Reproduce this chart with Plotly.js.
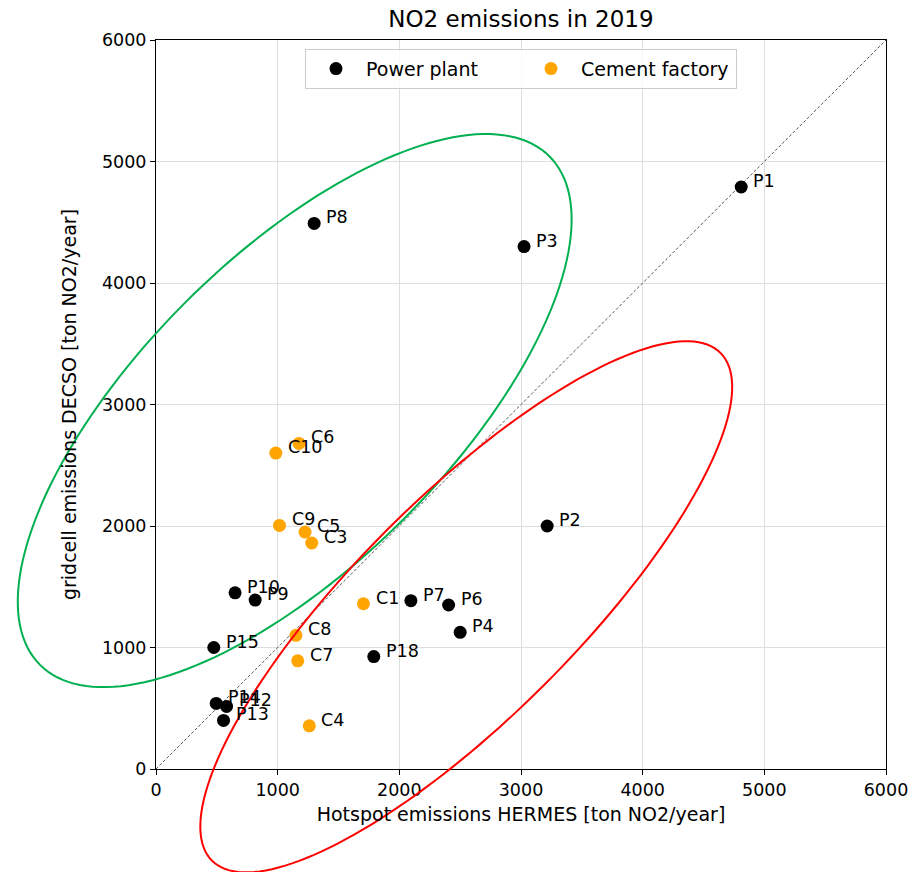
<!DOCTYPE html>
<html>
<head>
<meta charset="utf-8">
<script src="https://cdn.plot.ly/plotly-3.0.1.min.js"></script>
<style>html,body{margin:0;padding:0;background:#fff;}#chart{width:911px;height:872px;}</style>
</head>
<body>
<div id="chart"></div>
<script>
// ---- data ----
const plantNames = ['P1','P2','P3','P4','P6','P7','P8','P9','P10','P12','P13','P14','P15','P18'];
const plantX = [4810, 3215, 3025, 2500, 2405, 2095, 1300, 815, 650, 580, 555, 495, 475, 1790];
const plantY = [4790, 2000, 4300, 1125, 1350, 1385, 4490, 1390, 1450, 515, 400, 540, 1000, 925];
const cementNames = ['C1','C3','C4','C5','C6','C7','C8','C9','C10'];
const cementX = [1705, 1280, 1260, 1225, 1175, 1165, 1150, 1015, 985];
const cementY = [1360, 1860, 355, 1950, 2680, 890, 1100, 2005, 2600];
const diagX = [0, 6000];
const diagY = [0, 6000];
const tickVals = [0, 1000, 2000, 3000, 4000, 5000, 6000];
// ellipses: [centerX, centerY, width, height, angleDeg]
const greenEllipse = [1140, 2950, 5920, 2530, 45];
const redEllipse = [2550, 1335, 5910, 1815, 45];
const AXMAX = 6000;

const FONT = 'DejaVu Sans, sans-serif';
const LBL = 17.5;

function ellipsePath(e) {
  const [cx, cy, w, h, ang] = e;
  const a = w / 2, b = h / 2, t = ang * Math.PI / 180;
  let d = '';
  const N = 180;
  for (let i = 0; i <= N; i++) {
    const p = 2 * Math.PI * i / N;
    const x = cx + a * Math.cos(p) * Math.cos(t) - b * Math.sin(p) * Math.sin(t);
    const y = cy + a * Math.cos(p) * Math.sin(t) + b * Math.sin(p) * Math.cos(t);
    d += (i === 0 ? 'M' : 'L') + (x / AXMAX).toFixed(5) + ',' + (y / AXMAX).toFixed(5);
  }
  return d + 'Z';
}

const traces = [
  {x: diagX, y: diagY, mode: 'lines', showlegend: false, hoverinfo: 'skip',
   line: {color: '#555', width: 1, dash: '3px,2px'}},
  {x: plantX, y: plantY, mode: 'markers', name: 'Power plant',
   marker: {color: 'black', size: 13}},
  {x: cementX, y: cementY, mode: 'markers', name: 'Cement factory',
   marker: {color: 'orange', size: 13}}
];

const annotations = [];
function addLabels(names, xs, ys) {
  names.forEach((n, i) => {
    annotations.push({x: xs[i] + 100, y: ys[i], xref: 'x', yref: 'y', text: n,
      showarrow: false, xanchor: 'left', yanchor: 'middle', xshift: -2, yshift: 6,
      font: {family: FONT, size: LBL, color: 'black'}});
  });
}
addLabels(plantNames, plantX, plantY);
addLabels(cementNames, cementX, cementY);

const axisCommon = {
  range: [0, AXMAX], tickvals: tickVals, ticks: 'outside', ticklen: 5, tickwidth: 1,
  tickcolor: 'black', showline: true, linecolor: 'black', linewidth: 1, mirror: true,
  showgrid: true, gridcolor: '#dedede', gridwidth: 1, zeroline: false,
  tickfont: {family: FONT, size: 17.5, color: 'black'}, automargin: false
};

const layout = {
  width: 911, height: 872,
  margin: {l: 156, r: 25, t: 40, b: 103},
  paper_bgcolor: 'white', plot_bgcolor: 'white',
  title: {text: 'NO2 emissions in 2019', font: {family: FONT, size: 23, color: 'black'},
          x: 0.5718, xanchor: 'center', y: 0.978, yanchor: 'middle'},
  xaxis: Object.assign({}, axisCommon, {
    title: {text: 'Hotspot emissions HERMES [ton NO2/year]', font: {family: FONT, size: 19, color: 'black'}, standoff: 8}
  }),
  yaxis: Object.assign({}, axisCommon, {
    title: {text: 'gridcell emissions DECSO [ton NO2/year]', font: {family: FONT, size: 19, color: 'black'}, standoff: 20}
  }),
  legend: {orientation: 'h', x: 0.5, xanchor: 'center', y: 0.988, yanchor: 'top',
    bgcolor: 'rgba(255,255,255,0.8)', bordercolor: '#cccccc', borderwidth: 1,
    itemwidth: 50, entrywidth: 150,
    font: {family: FONT, size: 19, color: 'black'}},
  annotations: annotations,
  shapes: [
    {type: 'path', xref: 'paper', yref: 'paper', path: ellipsePath(greenEllipse),
     line: {color: '#00b050', width: 2}, fillcolor: 'rgba(0,0,0,0)', layer: 'above'},
    {type: 'path', xref: 'paper', yref: 'paper', path: ellipsePath(redEllipse),
     line: {color: 'red', width: 2}, fillcolor: 'rgba(0,0,0,0)', layer: 'above'}
  ]
};

Plotly.newPlot('chart', traces, layout, {displayModeBar: false, staticPlot: true});
</script>
</body>
</html>
